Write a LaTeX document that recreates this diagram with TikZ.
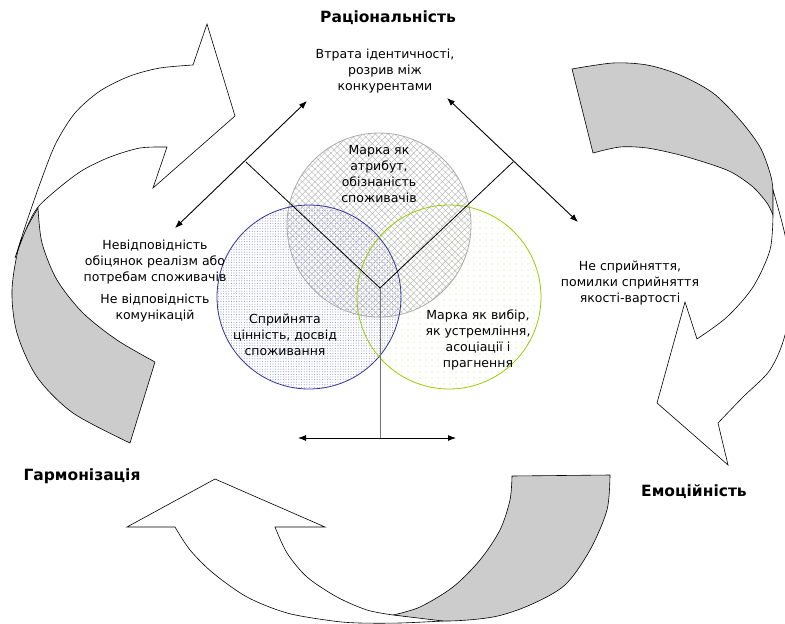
\documentclass[tikz,border=0pt]{standalone}
\usepackage{fontspec}
\setmainfont{DejaVu Sans}
\usetikzlibrary{arrows.meta,patterns.meta}
\definecolor{bandgray}{RGB}{204,204,204}
\definecolor{cgray}{RGB}{170,170,170}
\definecolor{cblue}{RGB}{51,51,153}
\definecolor{cgreen}{RGB}{153,204,0}
\definecolor{pblue}{RGB}{150,150,210}
\definecolor{pgreen}{RGB}{200,225,130}
\definecolor{pgray}{RGB}{185,185,185}
\begin{document}
\begin{tikzpicture}[x=1pt,y=-1pt,
  band/.style={draw=black,line width=0.6pt,fill=white,line join=miter},
  back/.style={draw=black,line width=0.6pt,fill=bandgray,line join=miter},
  txt/.style={align=center,font=\fontsize{12.5}{16}\selectfont,inner sep=0pt},
  ttl/.style={font=\fontsize{15.5}{18}\selectfont\bfseries,inner sep=0pt},
  dbl/.style={{Latex[length=8pt,width=6pt]}-{Latex[length=8pt,width=6pt]},line width=0.9pt},
  yline/.style={line width=0.8pt},
  venn/.style={circle,minimum size=184pt,inner sep=0pt}]
\useasboundingbox (0,0) rectangle (785,624);
\clip (0,0) rectangle (785,624);

% ---- arrow A (left, pointing up-right)
\filldraw[back] plot[smooth] coordinates {(38,208) (20,243) (12,290) (17,333) (37,377) (73,413) (130,443)}
  -- plot[smooth] coordinates {(155,362) (117,340) (83,313) (57,280) (42,243) (38,208)} -- cycle;
\filldraw[band] plot[smooth] coordinates {(15,258) (28,218) (42,178) (56,143) (75,113) (100,91) (130,76) (160,68) (193,65)}
  -- (207,24) -- (235,116) -- (153,188) -- (167,147)
  -- plot[smooth] coordinates {(167,147) (140,148) (110,157) (83,170) (60,187) (38,207) (27,227) (15,258)} -- cycle;

% ---- arrow B (right, pointing down-left)
\filldraw[back] plot[smooth] coordinates {(572,69) (613,63) (647,65) (680,75) (713,93) (740,120) (760,147) (770,173) (773,190) (773,215)}
  -- plot[smooth] coordinates {(773,215) (767,203) (753,187) (733,173) (713,165) (680,155) (647,148) (620,147) (593,153)} -- cycle;
\filldraw[band] plot[smooth] coordinates {(773,190) (785,235) (792,285) (785,335) (770,370) (743,397) (718,423)}
  -- (728,465) -- (657,403) -- (685,302) -- (697,339)
  -- plot[smooth] coordinates {(697,339) (727,317) (753,287) (770,250) (773,215)} -- cycle;

% ---- arrow C (bottom, pointing up-left)
\filldraw[back] (512,476) -- (610,475)
  -- plot[smooth] coordinates {(610,475) (607,510) (590,550) (565,585) (530,605) (493,617) (443,621) (393,615)}
  -- plot[smooth] coordinates {(393,615) (420,607) (453,587) (480,560) (500,530) (510,500) (512,476)} -- cycle;
\filldraw[band] plot[smooth] coordinates {(443,621) (400,623) (360,623) (333,621) (287,613) (247,597) (213,573) (190,550) (175,527)}
  -- (127,527) -- (215,479) -- (325,527) -- (275,527)
  -- plot[smooth] coordinates {(275,527) (287,553) (307,577) (337,597) (367,610) (393,615)}
  -- (443,621) -- cycle;

% ---- Venn circles
\node[venn,pattern={Hatch[angle=45,distance=4.5pt,line width=0.45pt]},pattern color=pgray] (cg) at (379,225) {};
\node[venn,pattern={Dots[distance=2.6pt,radius=0.55pt]},pattern color=pblue] (cb) at (309,297) {};
\node[venn,pattern={Dots[distance=6pt,radius=0.65pt]},pattern color=pgreen] (cr) at (449,297) {};
\node[venn,draw=cgray,line width=0.8pt] at (cg) {};
\node[venn,draw=cblue,line width=0.8pt] at (cb) {};
\node[venn,draw=cgreen,line width=0.8pt] at (cr) {};

% ---- Y lines and arrows
\coordinate (yc) at (380,288);
\coordinate (yl) at (246,162);
\coordinate (yr) at (513,162);
\coordinate (yb) at (380,438);
\draw[yline] (yl) -- (yc) -- (yr);
\draw[yline,draw=black!55] (yc) -- (yb);
\coordinate (dl1) at (175,228);
\coordinate (dl2) at (307,101);
\coordinate (dr1) at (447,98);
\coordinate (dr2) at (578,222);
\coordinate (h1) at (298,438);
\coordinate (h2) at (456,438);
\draw[dbl] (dl1) -- (dl2);
\draw[dbl] (dr1) -- (dr2);
\draw[dbl] (h1) -- (h2);

% ---- texts
\node[ttl] (rat) at (388,18) {Раціональність};
\node[ttl] (harm) at (82,476) {Гармонізація};
\node[ttl] (emo) at (694,492) {Емоційність};
\node[txt] (loss) at (385,71) {Втрата ідентичності,\\розрив між\\конкурентами};
\node[txt] (attr) at (379,174) {Марка як\\атрибут,\\обізнаність\\споживачів};
\node[txt] (perc) at (285,335) {Сприйнята\\цінність, досвід\\споживання};
\node[txt] (choice) at (478,340) {Марка як вибір,\\як устремління,\\асоціації і\\прагнення};
\node[txt] (mism) at (155,262) {Невідповідність\\обіцянок реалізм або\\потребам споживачів};
\node[txt] (comm) at (155,308) {Не відповідність\\комунікацій};
\node[txt] (nonp) at (630,283) {Не сприйняття,\\помилки сприйняття\\якості-вартості};
\end{tikzpicture}
\end{document}
